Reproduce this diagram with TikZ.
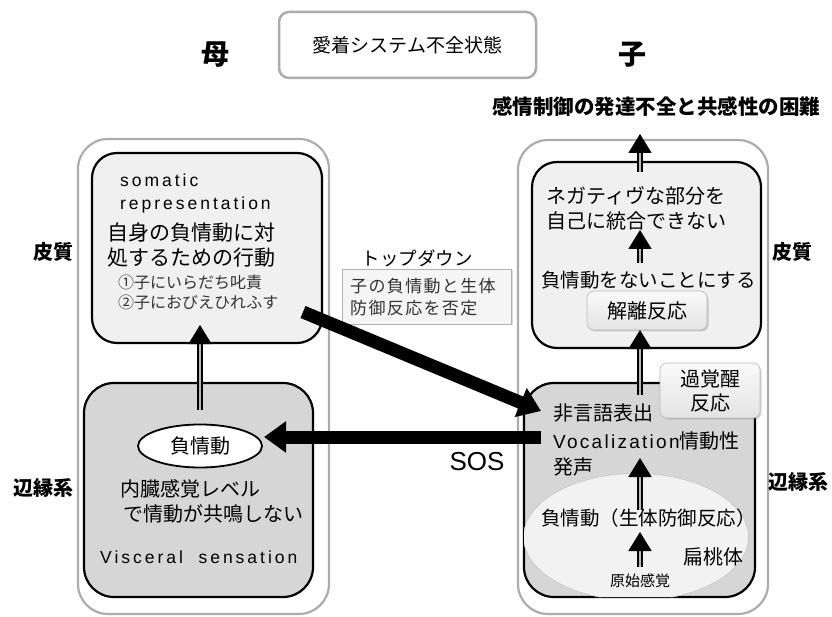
\documentclass[tikz,border=0pt]{standalone}
\usepackage{fontspec}
\setmainfont{Noto Sans CJK JP}
\newfontfamily\latsp{Liberation Sans}[LetterSpace=17]
\newfontfamily\latn{Liberation Sans}
\usetikzlibrary{arrows.meta,shadows,shapes.geometric}
\newcommand\myfs[1]{\fontsize{#1}{#1}\selectfont}
\begin{document}
\begin{tikzpicture}[x=1pt,y=-1pt,
  outerbox/.style={draw=gray!65, line width=2.2pt, rounded corners=30pt, minimum width=#1},
  upbox/.style={draw=black, line width=2.2pt, fill=gray!12, rounded corners=25pt},
  lowbox/.style={draw=black, line width=2.2pt, fill=gray!32, rounded corners=30pt},
  btn/.style={draw=gray!55, line width=0.6pt, rounded corners=7pt, top color=gray!4, bottom color=gray!22,
    drop shadow={opacity=0.35, shadow xshift=1.5pt, shadow yshift=-1.5pt}},
  txt/.style={inner sep=0pt, anchor=west},
  ctxt/.style={inner sep=0pt},
  dbl/.style={draw=black, line width=1.6pt, double=gray!55, double distance=2.6pt,
    -{Triangle[length=19pt,width=23pt]}},
  thick arrow/.style={draw=black, line width=13pt, -{Triangle[length=22pt,width=30pt]}},
]
\useasboundingbox (0,0) rectangle (832,617);

% title
\node[draw=gray!65, line width=2.5pt, rounded corners=10pt, minimum width=257pt, minimum height=66pt] (title) at (407.5,45) {\myfs{19}愛着システム不全状態};
\node[ctxt] (haha) at (215,55) {\bfseries\myfs{28}母};
\node[ctxt] (ko) at (632,55) {\bfseries\myfs{28}子};
\node[ctxt] (result) at (656,107) {\bfseries\myfs{20.5}感情制御の発達不全と共感性の困難};

% outer boxes
\node[outerbox=251pt, minimum height=475pt] (Lout) at (203.5,376.5) {};
\node[outerbox=250pt, minimum height=474pt] (Rout) at (643,377) {};

% left boxes
\node[upbox, minimum width=230pt, minimum height=190pt] (Lup) at (207,248) {};
\node[lowbox, minimum width=229pt, minimum height=214pt] (Llow) at (198.5,490) {};
\node[ellipse, draw=black, line width=1.8pt, fill=white, minimum width=124pt, minimum height=43pt] (Lell) at (200,446) {\myfs{20}負情動};

\node[txt] (som) at (120,180) {\latsp\myfs{17.5}somatic};
\node[txt] (rep) at (120,205) {\latsp\myfs{17.5}representation};
\node[txt] (l1) at (107,233) {\myfs{21}自身の負情動に対};
\node[txt] (l2) at (107,258) {\myfs{21}処するための行動};
\node[txt, text=black!80] (l3) at (118,282) {\myfs{16}①子にいらだち叱責};
\node[txt, text=black!80] (l4) at (118,302) {\myfs{16}②子におびえひれふす};

\node[txt] (l5) at (120,489) {\myfs{20}内臓感覚レベル};
\node[txt] (l6) at (123,514) {\myfs{20}で情動が共鳴しない};
\node[txt] (l7) at (100,557) {\latsp\myfs{17.5}Visceral\ \ sensation};

% right boxes
\node[upbox, minimum width=229pt, minimum height=186pt] (Rup) at (646.5,255) {};
\node[lowbox, minimum width=231pt, minimum height=214pt] (Rlow) at (639.5,490) {};
\begin{scope}
\clip[rounded corners=30pt] (524,383) rectangle (755,597);
\node[ellipse, draw=gray!45, line width=0.6pt, fill=gray!10, minimum width=225pt, minimum height=127pt] (Rell) at (636,537) {};
\end{scope}
\node[btn, minimum width=100pt, minimum height=55pt, align=center, font=\fontsize{20}{24}\selectfont] (kaku) at (710,390.5) {過覚醒\\反応};
\node[btn, minimum width=120pt, minimum height=39pt] (kairi) at (647,310.5) {\myfs{20}解離反応};

\node[txt] (r1) at (546,196) {\myfs{20}ネガティヴな部分を};
\node[txt] (r2) at (546,221) {\myfs{20}自己に統合できない};
\node[txt] (r3) at (541,280) {\myfs{19.5}負情動をないことにする};
\node[txt] (r4) at (553,413) {\myfs{20}非言語表出};
\node[txt] (r5) at (553,441) {\latn\addfontfeature{LetterSpace=12}\myfs{19}Vocalization\rmfamily\myfs{20}情動性};
\node[txt] (r6) at (553,467) {\myfs{20}発声};
\node[txt] (r7) at (541,518) {\myfs{19.5}負情動（生体防御反応）};
\node[ctxt] (amyg) at (713,557) {\myfs{20}扁桃体};
\node[ctxt] (genshi) at (640,581) {\myfs{15}原始感覚};

% side labels
\node[ctxt] (hL) at (53,252) {\bfseries\myfs{20}皮質};
\node[ctxt] (eL) at (43,488) {\bfseries\myfs{20}辺縁系};
\node[ctxt] (hR) at (792,252) {\bfseries\myfs{20}皮質};
\node[ctxt] (eR) at (798,482) {\bfseries\myfs{20}辺縁系};

% top-down
\node[ctxt] (td) at (417,258) {\myfs{18.5}トップダウン};
\node[draw=gray!60, line width=0.6pt, fill=gray!8, minimum width=169pt, minimum height=55pt,
  drop shadow={opacity=0.3, shadow xshift=1.5pt, shadow yshift=-1.5pt}] (tdbox) at (426.5,296.5) {};
\node[txt, text=black!80] (td1) at (350,286) {\myfs{17}\addfontfeature{LetterSpace=8}子の負情動と生体};
\node[txt, text=black!80] (td2) at (350,308) {\myfs{17}\addfontfeature{LetterSpace=8}防御反応を否定};
\node[ctxt] (sos) at (477,462) {\latn\myfs{26}SOS};

% coordinates for arrows
\coordinate (a1s) at (200,410); \coordinate (a1e) at (200,325);
\coordinate (a2s) at (640,395); \coordinate (a2e) at (640,330);
\coordinate (a3s) at (640,263); \coordinate (a3e) at (640,230);
\coordinate (a4s) at (640,172); \coordinate (a4e) at (640,134);
\coordinate (a5s) at (640,510); \coordinate (a5e) at (640,458);
\coordinate (a6s) at (640,567); \coordinate (a6e) at (640,532);
\coordinate (a7s) at (303,312); \coordinate (a7e) at (541,411);
\coordinate (a8s) at (541,437); \coordinate (a8e) at (264,437);

\draw[dbl] (a1s) -- (a1e);
\draw[dbl] (a2s) -- (a2e);
\draw[dbl] (a3s) -- (a3e);
\draw[dbl] (a4s) -- (a4e);
\draw[dbl] (a5s) -- (a5e);
\draw[dbl] (a6s) -- (a6e);
\draw[thick arrow] (a7s) -- (a7e);
\draw[thick arrow] (a8s) -- (a8e);
\end{tikzpicture}
\end{document}
